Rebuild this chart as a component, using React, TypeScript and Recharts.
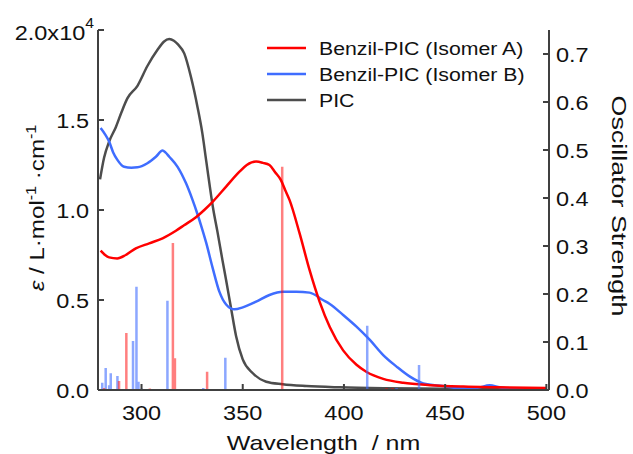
import { ComposedChart, Label, Legend, Line, XAxis, YAxis } from "recharts";

const FONT = '"Liberation Sans", Arial, Helvetica, sans-serif';
const FRAME = "#404040";
const INK = "#111111";
const WIDE = 1.12; // lettering in the original runs wider than Arial

const RED = "#ff0000";
const BLUE = "#3f6dff";
const GREY = "#4d4d4d";

// absorption, ε in units of 1e4 L·mol-1·cm-1
const isoANm = [279.8, 282, 284, 288, 292.2, 297.2, 303.8, 310.4, 317, 321, 326.9, 331, 335.1, 341.8, 348.4, 352, 356.6, 360, 363.2, 366, 368.8, 371, 373.1, 378.1, 383, 388, 393, 399.6, 406.2, 411.2, 419.4, 429.3, 442.5, 459, 475.6, 500];
const isoAEps = [0.774, 0.75, 0.737, 0.731, 0.75, 0.787, 0.815, 0.843, 0.885, 0.915, 0.96, 1.0, 1.045, 1.13, 1.213, 1.25, 1.269, 1.262, 1.25, 1.21, 1.167, 1.11, 1.056, 0.87, 0.667, 0.49, 0.35, 0.22, 0.14, 0.1, 0.062, 0.04, 0.027, 0.019, 0.015, 0.011];

const isoBNm = [279.8, 282, 284, 286, 288, 291.4, 295, 298, 302.9, 307.1, 310.4, 311.8, 313.7, 317.8, 322, 325.2, 327.7, 329.4, 331.9, 335.1, 338.5, 341.8, 345.9, 350, 356.6, 363.2, 369.8, 376.5, 383, 389.6, 393, 399.6, 406.2, 412.8, 419.4, 426, 432.6, 439.2, 449, 459, 466, 472, 477, 482, 490, 500];
const isoBEps = [1.455, 1.42, 1.38, 1.32, 1.28, 1.24, 1.235, 1.237, 1.26, 1.296, 1.33, 1.32, 1.296, 1.24, 1.148, 1.056, 0.975, 0.915, 0.82, 0.68, 0.545, 0.475, 0.448, 0.459, 0.491, 0.528, 0.546, 0.546, 0.541, 0.5, 0.478, 0.417, 0.352, 0.278, 0.194, 0.13, 0.074, 0.037, 0.022, 0.008, 0.012, 0.026, 0.015, 0.009, 0.01, 0.007];

const picNm = [279.5, 281.5, 284, 287.3, 290, 293, 298, 302.9, 307.9, 311, 313.7, 316, 318, 321.1, 324.4, 327.7, 330, 332, 335.5, 337.5, 340, 341.8, 344.3, 346.7, 350, 355, 361.6, 369.7, 381.4, 398, 420, 450, 475, 500];
const picEps = [1.17, 1.29, 1.38, 1.46, 1.54, 1.62, 1.69, 1.8, 1.89, 1.935, 1.95, 1.94, 1.92, 1.87, 1.74, 1.57, 1.43, 1.27, 1.0, 0.88, 0.72, 0.61, 0.45, 0.3, 0.17, 0.093, 0.046, 0.032, 0.022, 0.015, 0.01, 0.007, 0.006, 0.005];

// calculated transitions (oscillator strength)
const stickANm = [281.5, 288.9, 292.5, 304.1, 315.5, 316.5, 332.4, 369.5, 421, 424];
const stickAF = [0.004, 0.019, 0.119, 0.003, 0.306, 0.066, 0.038, 0.465, 0.004, 0.004];
const stickBNm = [280.6, 282.3, 284, 284.8, 288.1, 295.8, 297.5, 298.5, 300.1, 312.8, 330.5, 341.4, 411.5, 426, 437.1];
const stickBF = [0.015, 0.046, 0.01, 0.035, 0.029, 0.102, 0.215, 0.017, 0.003, 0.186, 0.004, 0.067, 0.134, 0.004, 0.052];

const xTicks = [300, 350, 400, 450, 500];
const epsTicks = [0, 0.5, 1, 1.5, 2];
const fTicks = [0, 0.1, 0.2, 0.3, 0.4, 0.5, 0.6, 0.7];
const X_DOMAIN = [278.5, 501.3];

const legendNames = ["Benzil-PIC (Isomer A)", "Benzil-PIC (Isomer B)", "PIC"];
const legendColors = [RED, BLUE, GREY];

const curve = (nm: number[], eps: number[]) => nm.map((w, i) => ({ nm: w, eps: eps[i] }));
// each stick: baseline point, top point, then a gap
const sticks = (nm: number[], f: number[]) =>
  nm.flatMap((w, i) => [
    { nm: w, f: 0 },
    { nm: w, f: f[i] },
    { nm: w, f: null },
  ]);

function BottomTick({ x, y, payload }: any) {
  return (
    <g>
      <line x1={x} x2={x} y1={y} y2={y - 6} stroke={FRAME} strokeWidth={2} />
      <text transform={`translate(${x},${y + 30}) scale(${WIDE},1)`} textAnchor="middle" fontSize={21} fontFamily={FONT} fill={INK}>
        {payload.value}
      </text>
    </g>
  );
}

function LeftTick({ x, y, payload }: any) {
  const v = payload.value as number;
  return (
    <g>
      <line x1={x} x2={x + 6} y1={y} y2={y} stroke={FRAME} strokeWidth={2} />
      {v === 2 ? (
        <text transform={`translate(${x - 4},${y + 10}) scale(${WIDE},1)`} textAnchor="end" fontSize={21} fontFamily={FONT} fill={INK}>
          2.0x10
          <tspan dy={-12} fontSize={14}>4</tspan>
        </text>
      ) : (
        <text transform={`translate(${x - 9},${y + 7.5}) scale(${WIDE},1)`} textAnchor="end" fontSize={21} fontFamily={FONT} fill={INK}>
          {v.toFixed(1)}
        </text>
      )}
    </g>
  );
}

function RightTick({ x, y, payload }: any) {
  return (
    <g>
      <line x1={x} x2={x - 6} y1={y} y2={y} stroke={FRAME} strokeWidth={2} />
      <text transform={`translate(${x + 7},${y + 7.5}) scale(${WIDE},1)`} textAnchor="start" fontSize={21} fontFamily={FONT} fill={INK}>
        {(payload.value as number).toFixed(1)}
      </text>
    </g>
  );
}

function LegendBox() {
  return (
    <svg width={300} height={84}>
      {legendNames.map((name, i) => (
        <g key={name} transform={`translate(0,${14 + i * 26})`}>
          <line x1={5} x2={44} y1={0} y2={0} stroke={legendColors[i]} strokeWidth={2.5} />
          <text transform="translate(57,6.5) scale(1.15,1)" fontSize={18.5} fontFamily={FONT} fill={INK}>
            {name}
          </text>
        </g>
      ))}
    </svg>
  );
}

export default function App() {
  return (
    <div style={{ position: "absolute", left: 0, top: 0, background: "#fff" }}>
      <ComposedChart width={633} height={454} margin={{ top: 30, right: 0, bottom: 0, left: 0 }}>
        <XAxis
          type="number"
          dataKey="nm"
          domain={X_DOMAIN}
          ticks={xTicks}
          allowDataOverflow
          height={64}
          tickSize={0}
          tickMargin={0}
          tickLine={false}
          axisLine={{ stroke: FRAME, strokeWidth: 2 }}
          tick={(p: any) => <BottomTick {...p} />}
        >
          <Label
            content={({ viewBox }: any) => (
              <text
                transform={`translate(${viewBox.x + viewBox.width / 2},${viewBox.y + 60}) scale(1.19,1)`}
                textAnchor="middle"
                fontSize={21}
                fontFamily={FONT}
                fill={INK}
              >
                {"Wavelength\u00a0 / nm"}
              </text>
            )}
          />
        </XAxis>
        <XAxis
          xAxisId="top"
          orientation="top"
          type="number"
          dataKey="nm"
          domain={X_DOMAIN}
          allowDataOverflow
          height={0}
          tick={false}
          tickLine={false}
          axisLine={{ stroke: FRAME, strokeWidth: 2 }}
        />
        <YAxis
          yAxisId="left"
          type="number"
          domain={[0, 2]}
          ticks={epsTicks}
          width={98}
          tickSize={0}
          tickMargin={0}
          tickLine={false}
          axisLine={{ stroke: FRAME, strokeWidth: 2 }}
          tick={(p: any) => <LeftTick {...p} />}
        >
          <Label
            content={({ viewBox }: any) => (
              <text
                transform={`translate(44,${viewBox.y + viewBox.height / 2 - 2}) rotate(-90) scale(1.15,1)`}
                textAnchor="middle"
                fontSize={21}
                fontFamily={FONT}
                fill={INK}
              >
                <tspan fontStyle="italic">ε</tspan>
                {" / L·mol"}
                <tspan dy={-8} fontSize={14}>-1</tspan>
                <tspan dy={8}>{" ·cm"}</tspan>
                <tspan dy={-8} fontSize={14}>-1</tspan>
              </text>
            )}
          />
        </YAxis>
        <YAxis
          yAxisId="right"
          orientation="right"
          type="number"
          domain={[0, 0.75]}
          ticks={fTicks}
          width={84}
          tickSize={0}
          tickMargin={0}
          tickLine={false}
          axisLine={{ stroke: FRAME, strokeWidth: 2 }}
          tick={(p: any) => <RightTick {...p} />}
        >
          <Label
            content={({ viewBox }: any) => (
              <text
                transform={`translate(612,${viewBox.y + viewBox.height / 2 - 4}) rotate(90) scale(1.28,1)`}
                textAnchor="middle"
                fontSize={21}
                fontFamily={FONT}
                fill={INK}
              >
                Oscillator Strength
              </text>
            )}
          />
        </YAxis>
        <Legend
          layout="vertical"
          align="center"
          verticalAlign="middle"
          wrapperStyle={{ left: 262, top: 34, width: 300, height: 84 }}
          content={() => <LegendBox />}
        />
        <Line yAxisId="left" data={curve(picNm, picEps)} dataKey="eps" type="monotone" stroke={GREY} strokeWidth={2.5} dot={false} activeDot={false} isAnimationActive={false} />
        <Line yAxisId="left" data={curve(isoBNm, isoBEps)} dataKey="eps" type="monotone" stroke={BLUE} strokeWidth={2.5} dot={false} activeDot={false} isAnimationActive={false} />
        <Line yAxisId="left" data={curve(isoANm, isoAEps)} dataKey="eps" type="monotone" stroke={RED} strokeWidth={2.5} dot={false} activeDot={false} isAnimationActive={false} />
        <Line yAxisId="right" data={sticks(stickBNm, stickBF)} dataKey="f" type="linear" stroke={BLUE} strokeOpacity={0.6} strokeWidth={2.5} dot={false} activeDot={false} legendType="none" isAnimationActive={false} />
        <Line yAxisId="right" data={sticks(stickANm, stickAF)} dataKey="f" type="linear" stroke={RED} strokeOpacity={0.5} strokeWidth={2.5} dot={false} activeDot={false} legendType="none" isAnimationActive={false} />
      </ComposedChart>
    </div>
  );
}
